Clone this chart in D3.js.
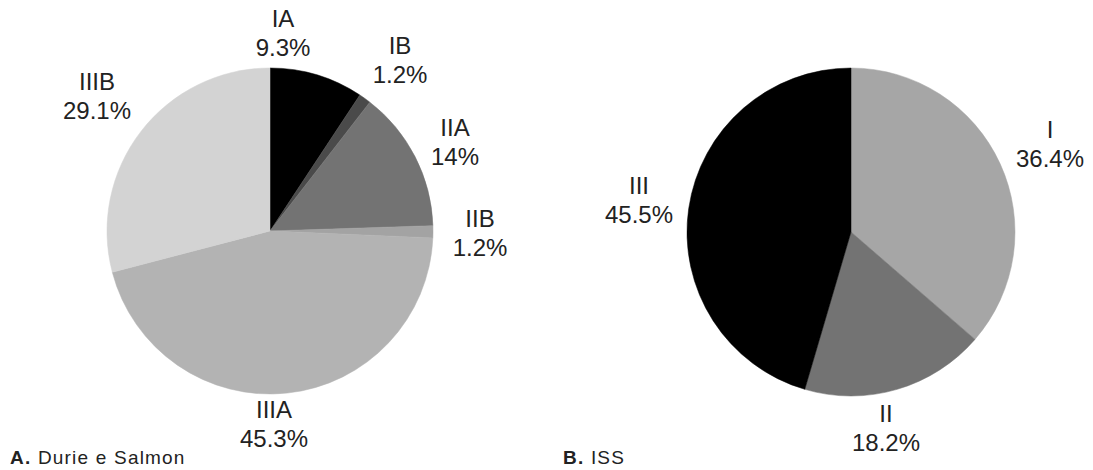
<!DOCTYPE html>
<html>
<head>
<meta charset="utf-8">
<script src="https://cdn.jsdelivr.net/npm/d3@7"></script>
<style>
  html, body { margin: 0; padding: 0; background: #fff; }
  svg { display: block; }
  text { font-family: "Liberation Sans", Arial, sans-serif; fill: #222; }
</style>
</head>
<body>
<svg id="chart" width="1093" height="470"></svg>
<script>
// Durie–Salmon staging
const dsStages = ["IA", "IB", "IIA", "IIB", "IIIA", "IIIB"];
const dsValues = [9.3, 1.2, 14, 1.2, 45.3, 29.1];
const dsColors = ["#000000", "#4a4a4a", "#737373", "#a3a3a3", "#b3b3b3", "#d3d3d3"];
// label anchor points (first baseline), relative to the pie centre
const dsLabelPos = [[13, -204], [130, -177], [185, -95], [210, -4], [4, 187], [-173, -141]];

// ISS staging
const issStages = ["I", "II", "III"];
const issValues = [36.4, 18.2, 45.5];
const issColors = ["#a6a6a6", "#737373", "#000000"];
const issLabelPos = [[199, -94], [35, 190], [-212, -38]];

const svg = d3.select("#chart");
const pie = d3.pie().sort(null).value(d => d.value);

function drawPie(cx, cy, r, stages, values, colors, labelPos) {
  const data = stages.map((s, i) => ({ stage: s, value: values[i], color: colors[i], pos: labelPos[i] }));
  const arc = d3.arc().innerRadius(0).outerRadius(r);
  const g = svg.append("g").attr("transform", `translate(${cx},${cy})`);
  g.selectAll("path")
    .data(pie(data))
    .join("path")
    .attr("d", arc)
    .attr("fill", d => d.data.color)
    .attr("stroke", d => d.data.color)
    .attr("stroke-width", 0.5);

  const lab = g.selectAll("text.lab")
    .data(data)
    .join("text")
    .attr("class", "lab")
    .attr("text-anchor", "middle")
    .attr("font-size", 24)
    .attr("transform", d => `translate(${d.pos[0]},${d.pos[1]})`);
  lab.append("tspan").attr("x", 0).attr("dy", 0).text(d => d.stage);
  lab.append("tspan").attr("x", 0).attr("dy", 29).text(d => d.value + "%");
}

drawPie(270, 231, 163, dsStages, dsValues, dsColors, dsLabelPos);
drawPie(851, 232, 164, issStages, issValues, issColors, issLabelPos);

// panel captions
function caption(x, letter, title) {
  const t = svg.append("text").attr("x", x).attr("y", 464)
    .attr("font-size", 19).attr("letter-spacing", 1.2);
  t.append("tspan").attr("font-weight", "bold").text(letter + ".");
  t.append("tspan").text(" " + title);
}
caption(10, "A", "Durie e Salmon");
caption(563, "B", "ISS");
</script>
</body>
</html>
